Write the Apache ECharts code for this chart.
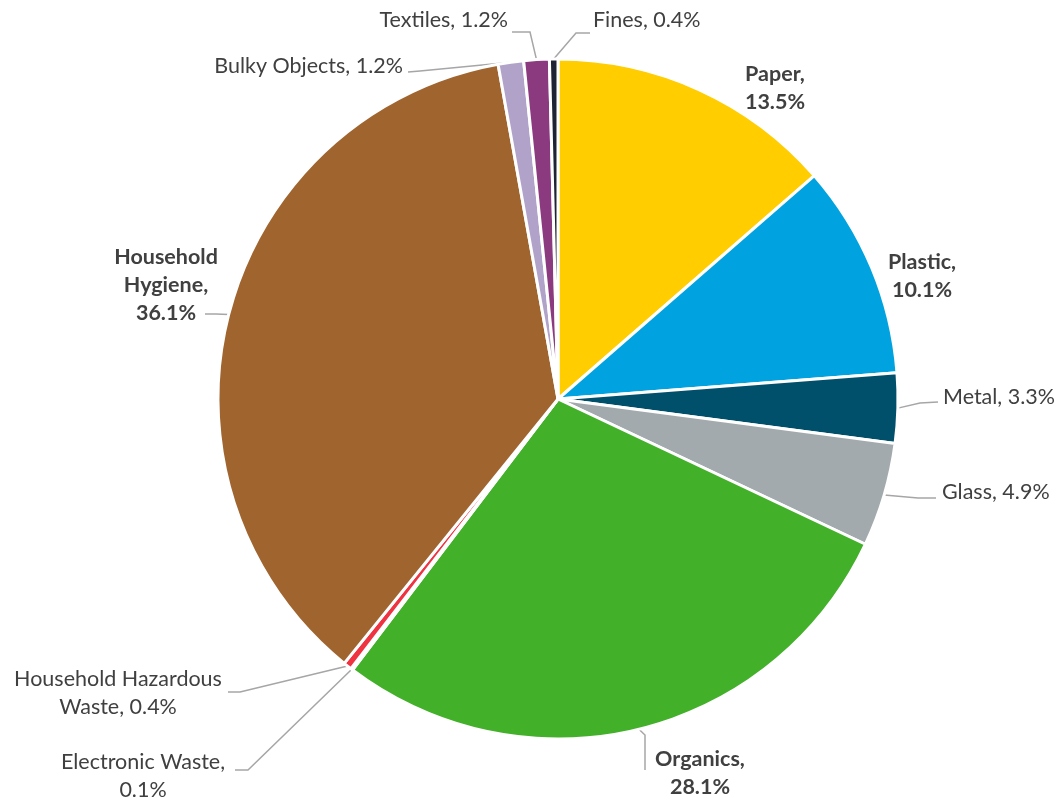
<!DOCTYPE html>
<html>
<head>
<meta charset="utf-8">
<title>Waste composition</title>
<script src="https://cdn.jsdelivr.net/npm/echarts@6/dist/echarts.min.js"></script>
<style>
  html, body { margin: 0; padding: 0; background: #ffffff; }
  #chart { width: 1063px; height: 801px; }
</style>
</head>
<body>
<div id="chart"></div>
<script>
// Waste stream categories (clockwise from 12 o'clock) and their shares in percent
const categories = [
  'Paper', 'Plastic', 'Metal', 'Glass', 'Organics', 'Electronic Waste',
  'Household Hazardous Waste', 'Household Hygiene', 'Bulky Objects', 'Textiles', 'Fines'
];
const shares = [13.5, 10.1, 3.3, 4.9, 28.1, 0.1, 0.4, 36.1, 1.2, 1.2, 0.4];
const colors = [
  '#FFCD00', '#00A3E0', '#004F6B', '#A2AAAD', '#43B02A', '#63666A',
  '#EF3340', '#A0642F', '#B1A2CA', '#8C3A80', '#1E2433'
];

// Label placement: text anchor, alignment, line breaks and leader-line route
const labelPlan = [
  { x: 775, y: 88,  align: 'center', bold: true,  text: 'Paper,\n{v}' },
  { x: 922, y: 276, align: 'center', bold: true,  text: 'Plastic,\n{v}' },
  { x: 943, y: 397, align: 'left',   text: 'Metal, {v}',            guide: [[920, 403], [938, 402]] },
  { x: 942, y: 492, align: 'left',   text: 'Glass, {v}',            guide: [[918, 498], [936, 498]] },
  { x: 700, y: 773, align: 'center', bold: true,  text: 'Organics,\n{v}', guide: [[645, 735], [645, 770]] },
  { x: 143, y: 776, align: 'center', text: 'Electronic Waste,\n{v}', guide: [[248, 770], [235, 770]] },
  { x: 118, y: 693, align: 'center', text: 'Household Hazardous\nWaste, {v}', guide: [[240, 692], [228, 692]] },
  { x: 166, y: 285, align: 'center', bold: true,  text: 'Household\nHygiene,\n{v}', guide: [[216, 314], [205, 314]] },
  { x: 403, y: 66,  align: 'right',  text: 'Bulky Objects, {v}',    guide: [[420, 71], [408, 72]] },
  { x: 508, y: 20,  align: 'right',  text: 'Textiles, {v}',         guide: [[530, 32], [512, 32]] },
  { x: 593, y: 20,  align: 'left',   text: 'Fines, {v}',            guide: [[576, 33], [590, 33]] }
];

const seriesData = categories.map((name, i) => ({
  name: name,
  value: shares[i],
  itemStyle: { color: colors[i] },
  label: { fontWeight: labelPlan[i].bold ? 'bold' : 'normal' },
  labelLine: { show: !!labelPlan[i].guide }
}));

const chart = echarts.init(document.getElementById('chart'), null, { renderer: 'canvas' });

chart.setOption({
  backgroundColor: '#ffffff',
  animation: false,
  series: [{
    type: 'pie',
    center: [558, 399],
    radius: [0, 340],
    startAngle: 90,
    clockwise: true,
    avoidLabelOverlap: false,
    data: seriesData,
    itemStyle: { borderColor: '#ffffff', borderWidth: 3 },
    label: {
      show: true,
      position: 'outside',
      color: '#404040',
      fontFamily: 'Lato',
      fontSize: 21.5,
      lineHeight: 28,
      formatter: p => labelPlan[p.dataIndex].text.replace('{v}', p.value.toFixed(1) + '%')
    },
    labelLine: {
      show: true,
      length: 10,
      length2: 10,
      smooth: false,
      lineStyle: { color: '#A6A6A6', width: 1.5 }
    },
    emphasis: { disabled: true },
    labelLayout: function (params) {
      const plan = labelPlan[params.dataIndex];
      const out = {
        x: plan.x,
        y: plan.y,
        align: plan.align,
        verticalAlign: 'middle',
        hideOverlap: false,
        moveOverlap: null
      };
      if (plan.guide && params.labelLinePoints) {
        out.labelLinePoints = [params.labelLinePoints[0]].concat(plan.guide);
      }
      return out;
    }
  }]
});
</script>
</body>
</html>
